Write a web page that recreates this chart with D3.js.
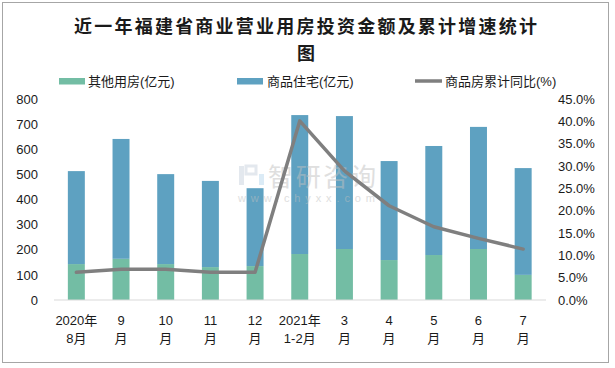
<!DOCTYPE html>
<html><head><meta charset="utf-8">
<script src="https://cdn.jsdelivr.net/npm/d3@7"></script>
<style>
html,body{margin:0;padding:0;background:#fff;}
svg{display:block;}
text{font-family:"Liberation Sans","Noto Sans CJK SC",sans-serif;}
</style></head>
<body>
<svg id="chart" width="615" height="368"></svg>
<script>
const categories = ["2020年\n8月","9\n月","10\n月","11\n月","12\n月","2021年\n1-2月","3\n月","4\n月","5\n月","6\n月","7\n月"];
const otherValues = [143,164,143,131,135,183,203,159,179,203,100];
const residentialValues = [370,477,358,343,310,553,529,394,434,486,425];
const growthValues = [6.2,6.9,6.9,6.2,6.2,40.1,28.9,21.1,16.4,13.8,11.4];
const leftTicks = [0,100,200,300,400,500,600,700,800];
const rightTicks = [0,5,10,15,20,25,30,35,40,45];
const seriesNames = ["其他用房(亿元)","商品住宅(亿元)","商品房累计同比(%)"];
const titleLines = ["近一年福建省商业营业用房投资金额及累计增速统计","图"];

const svg = d3.select("#chart");
const colGreen = "#73bda4", colBlue = "#5ea1c1", colLine = "#7f7f7f";

svg.append("rect").attr("x",2.5).attr("y",2.5).attr("width",606).attr("height",360)
  .attr("fill","#fff").attr("stroke","#a6a6a6").attr("stroke-width",1);

// title
svg.append("text").attr("x",305.5).attr("y",24.5).attr("text-anchor","middle")
  .attr("dominant-baseline","central").attr("font-size",18).attr("font-weight","bold")
  .attr("fill","#1a1a1a").attr("textLength",463).attr("lengthAdjust","spacing")
  .style("font-family","'Noto Sans CJK SC',serif").text(titleLines[0]);
svg.append("text").attr("x",306).attr("y",51.5).attr("text-anchor","middle")
  .attr("dominant-baseline","central").attr("font-size",18).attr("font-weight","bold")
  .attr("fill","#1a1a1a").style("font-family","'Noto Sans CJK SC',serif").text(titleLines[1]);

const x = d3.scaleBand().domain(categories).range([54,545.5]).paddingInner(0.62).paddingOuter(0.31);
const y = d3.scaleLinear().domain([0,800]).range([300,99]);
const y2 = d3.scaleLinear().domain([0,45]).range([300,99]);

// stacked bars
const stackData = categories.map((c,i)=>({cat:c, other:otherValues[i], res:residentialValues[i]}));
const stack = d3.stack().keys(["other","res"])(stackData);
const colors = [colGreen,colBlue];
svg.append("g").selectAll("g").data(stack).join("g").attr("fill",(d,i)=>colors[i])
  .selectAll("rect").data(d=>d).join("rect")
  .attr("x",d=>x(d.data.cat)).attr("width",x.bandwidth())
  .attr("y",d=>y(d[1])).attr("height",d=>y(d[0])-y(d[1]));

// watermark
const wm = svg.append("g").attr("opacity",0.5);
wm.append("rect").attr("x",239).attr("y",166).attr("width",5).attr("height",19).attr("fill","#c9d2de");
wm.append("rect").attr("x",246).attr("y",166).attr("width",10).attr("height",8).attr("fill","none").attr("stroke","#c9d2de").attr("stroke-width",3);
wm.append("rect").attr("x",259).attr("y",174).attr("width",5).attr("height",11).attr("fill","#b9d8ee");
wm.append("text").attr("x",268).attr("y",186).attr("font-size",25).attr("fill","#c0c0c0")
  .style("font-family","'Noto Sans CJK SC',sans-serif").attr("textLength",108).attr("lengthAdjust","spacing").text("智研咨询");
wm.append("text").attr("x",238).attr("y",202).attr("font-size",11).attr("fill","#c0c0c0")
  .attr("textLength",137).attr("lengthAdjust","spacing").text("www.chyxx.com");

// axis line
svg.append("line").attr("x1",54).attr("x2",546).attr("y1",y(0)).attr("y2",y(0))
  .attr("stroke","#d9d9d9").attr("stroke-width",1);

// line series
const line = d3.line().x((d,i)=>x(categories[i])+x.bandwidth()/2).y(d=>y2(d));
svg.append("path").datum(growthValues).attr("d",line).attr("fill","none")
  .attr("stroke",colLine).attr("stroke-width",3.5).attr("stroke-linejoin","round").attr("stroke-linecap","round");

// left axis
const la = svg.append("g").attr("transform","translate(38,0)")
  .call(d3.axisLeft(y).tickValues(leftTicks).tickSize(0).tickPadding(0));
la.select(".domain").remove();
la.selectAll("text").attr("font-size",13).attr("fill","#1a1a1a").style("font-family","'Liberation Sans',sans-serif");

// right axis
const ra = svg.append("g").attr("transform","translate(558,0)")
  .call(d3.axisRight(y2).tickValues(rightTicks).tickFormat(d=>d.toFixed(1)+"%").tickSize(0).tickPadding(0));
ra.select(".domain").remove();
ra.selectAll("text").attr("font-size",13).attr("fill","#1a1a1a").style("font-family","'Liberation Sans',sans-serif");

// x labels
const xl = svg.append("g");
categories.forEach(c=>{
  const parts = c.split("\n");
  const t = xl.append("text").attr("text-anchor","middle").attr("font-size",13).attr("fill","#1a1a1a")
    .attr("x",x(c)+x.bandwidth()/2);
  t.append("tspan").attr("x",x(c)+x.bandwidth()/2).attr("y",324.5).text(parts[0]);
  t.append("tspan").attr("x",x(c)+x.bandwidth()/2).attr("y",342.5).text(parts[1]);
});

// legend
const leg = svg.append("g");
const legItems = [{x:59,tx:88,type:"rect",c:colGreen},{x:237,tx:267,type:"rect",c:colBlue},{x:415,tx:445,type:"line",c:colLine}];
legItems.forEach((it,i)=>{
  if(it.type==="rect") leg.append("rect").attr("x",it.x).attr("y",78).attr("width",26).attr("height",6.5).attr("fill",it.c);
  else leg.append("line").attr("x1",it.x).attr("x2",it.x+27).attr("y1",81).attr("y2",81).attr("stroke",it.c).attr("stroke-width",3.5);
  leg.append("text").attr("x",it.tx).attr("y",81.5).attr("dominant-baseline","central").attr("font-size",13)
    .attr("fill","#1a1a1a").text(seriesNames[i]);
});
</script>
</body></html>
